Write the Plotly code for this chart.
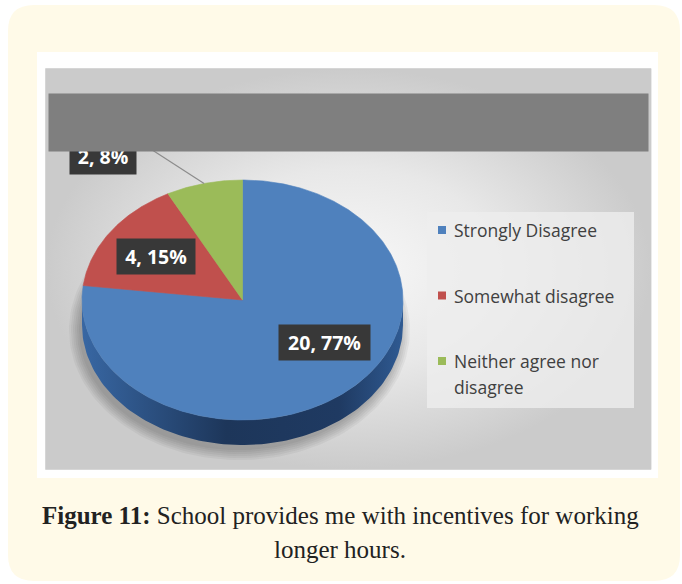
import textwrap
import numpy as np
import plotly.graph_objects as go

# ---- data ----
categories = ["Strongly Disagree", "Somewhat disagree", "Neither agree nor disagree"]
counts = [20, 4, 2]
slice_colors = ["#4f81bd", "#c0504d", "#9bbb59"]
caption_bold = "Figure 11:"
caption_lines = ["School provides me with incentives for working", "longer hours."]

# ---- geometry / style (pixel space: x right, y down) ----
W, H = 682, 584
CX, CY = 242.5, 300.0       # centre of the pie's top face
RX, RY = 160.5, 120.0       # ellipse radii of the tilted pie
DEPTH = 25.0                # thickness of the 3D pie
LABEL_POS = [(324, 342), (156, 256), (103, 156)]
LABEL_SIZE = [(91, 35), (78, 35), (66, 35)]
LEGEND_X, LEGEND_Y0, LEGEND_STEP = 442, 230, 65.5

total = sum(counts)
fractions = [c / total for c in counts]


def rim(theta_deg, dy=0.0):
    t = np.radians(theta_deg)
    return CX + RX * np.sin(t), CY - RY * np.cos(t) + dy


def box(x0, y0, x1, y1):
    return [x0, x1, x1, x0, x0], [y0, y0, y1, y1, y0]


fig = go.Figure()

# chart panel with a soft radial grey gradient
bx_, by_ = box(46, 69, 651, 469)
fig.add_trace(go.Scatter(
    x=bx_, y=by_, mode="lines", line=dict(width=0), fill="toself",
    fillgradient=dict(type="radial",
                      colorscale=[[0, "#f8f8f8"], [0.5, "#e8e8e8"], [1, "#cbcbcb"]]),
    hoverinfo="skip", showlegend=False))

# soft drop shadow under the pie
tt = np.linspace(0, 360, 181)
for k in range(0, 12, 2):
    sx, sy = rim(tt)
    sx = CX - 3 + (sx - CX) * (RX + k) / RX
    sy = CY + DEPTH + 5 + (sy - CY) * (RY + k) / RY
    fig.add_trace(go.Scatter(x=sx, y=sy, mode="lines", line=dict(width=0),
                             fill="toself", fillcolor="rgba(0,0,0,0.045)",
                             hoverinfo="skip", showlegend=False))

# angular extents of the slices (clockwise from 12 o'clock)
bounds = np.concatenate([[0], np.cumsum(fractions) * 360])

# visible side walls (front half of the ellipse: 90..270 degrees)
for i in range(len(counts)):
    a0, a1 = max(bounds[i], 90), min(bounds[i + 1], 270)
    if a1 <= a0:
        continue
    th = np.linspace(a0, a1, 120)
    tx, ty = rim(th)
    sx, sy = rim(th[::-1], DEPTH)
    fig.add_trace(go.Scatter(
        x=np.concatenate([tx, sx, tx[:1]]), y=np.concatenate([ty, sy, ty[:1]]),
        mode="lines", line=dict(width=0), fill="toself",
        fillgradient=dict(type="horizontal",
                          colorscale=[[0, "#3867a3"], [0.45, "#1d365a"],
                                      [0.8, "#1f3a62"], [1, "#2f5a92"]]),
        hoverinfo="skip", showlegend=False))

# top faces of the slices
for i in range(len(counts)):
    th = np.linspace(bounds[i], bounds[i + 1], max(8, int((bounds[i + 1] - bounds[i]) * 2)))
    rx_, ry_ = rim(th)
    fig.add_trace(go.Scatter(
        x=np.concatenate([[CX], rx_, [CX]]), y=np.concatenate([[CY], ry_, [CY]]),
        mode="lines", line=dict(width=0.6, color=slice_colors[i]), fill="toself",
        fillcolor=slice_colors[i], name=categories[i],
        hoverinfo="name", showlegend=False))

# legend panel
lx_, ly_ = box(427, 212, 634, 408)
fig.add_trace(go.Scatter(x=lx_, y=ly_, mode="lines", line=dict(width=0), fill="toself",
                         fillcolor="rgba(238,238,238,0.8)", hoverinfo="skip",
                         showlegend=False))
for i, name in enumerate(categories):
    y = LEGEND_Y0 + i * LEGEND_STEP
    fig.add_trace(go.Scatter(x=[LEGEND_X], y=[y], mode="markers",
                             marker=dict(symbol="square", size=8, color=slice_colors[i],
                                         line=dict(width=0)),
                             hoverinfo="skip", showlegend=False))
    for j, line in enumerate(textwrap.wrap(name, 17)):
        fig.add_annotation(x=LEGEND_X + 10, y=y + j * 26, text=line, showarrow=False,
                           xanchor="left", yanchor="middle",
                           font=dict(family="Open Sans", size=17.5, color="#404040"))

# leader line for the small outside label
mid_small = (bounds[2] + bounds[3]) / 2
lx, ly = rim(mid_small)
lbx, lby = LABEL_POS[2]
fig.add_shape(type="line", x0=float(lx), y0=float(ly),
              x1=lbx + LABEL_SIZE[2][0] / 2, y1=lby - LABEL_SIZE[2][1] / 2 + 1,
              line=dict(color="#8c8c8c", width=1.2), layer="above")

# data labels "count, percent"
for i, c in enumerate(counts):
    x, y = LABEL_POS[i]
    w, h = LABEL_SIZE[i]
    fig.add_annotation(x=x, y=y, text=f"<b>{c}, {round(fractions[i] * 100)}%</b>",
                       showarrow=False, xanchor="center", yanchor="middle",
                       width=w - 2, height=h - 2, borderpad=1, bgcolor="#383838",
                       font=dict(family="Open Sans", size=19.5, color="white"))

# grey banner across the top of the chart
fig.add_annotation(x=48, y=93, text=" ", showarrow=False, xanchor="left", yanchor="top",
                   width=599, height=57, borderpad=0, bgcolor="#7f7f7f",
                   font=dict(size=2))

# caption
fig.add_annotation(x=W / 2 - 1, y=515, showarrow=False, xanchor="center", yanchor="middle",
                   text=f"<b>{caption_bold}</b> {caption_lines[0]}",
                   font=dict(family="Liberation Serif", size=25, color="#222222"))
fig.add_annotation(x=W / 2 - 1, y=549, showarrow=False, xanchor="center", yanchor="middle",
                   text=caption_lines[1],
                   font=dict(family="Liberation Serif", size=25, color="#222222"))

# page frame: cream rounded card and white picture mount
r = 26
x0, y0, x1, y1 = 8, 5, 680, 581
card = (f"M {x0 + r},{y0} L {x1 - r},{y0} Q {x1},{y0} {x1},{y0 + r} "
        f"L {x1},{y1 - r} Q {x1},{y1} {x1 - r},{y1} L {x0 + r},{y1} "
        f"Q {x0},{y1} {x0},{y1 - r} L {x0},{y0 + r} Q {x0},{y0} {x0 + r},{y0} Z")
fig.add_shape(type="path", path=card, fillcolor="#fffae8", line=dict(width=0), layer="below")
fig.add_shape(type="rect", x0=37, y0=52, x1=658, y1=478, fillcolor="white",
              line=dict(width=0), layer="below")
fig.add_shape(type="rect", x0=45.5, y0=68.5, x1=651, y1=469.5, fillcolor="rgba(0,0,0,0)",
              line=dict(width=1, color="#d6d6d6"), layer="below")

fig.update_layout(
    width=W, height=H, margin=dict(l=0, r=0, t=0, b=0),
    paper_bgcolor="white", plot_bgcolor="white",
    xaxis=dict(range=[0, W], visible=False, fixedrange=True),
    yaxis=dict(range=[H, 0], visible=False, fixedrange=True),
    showlegend=False,
)

fig.write_html("out.html")
